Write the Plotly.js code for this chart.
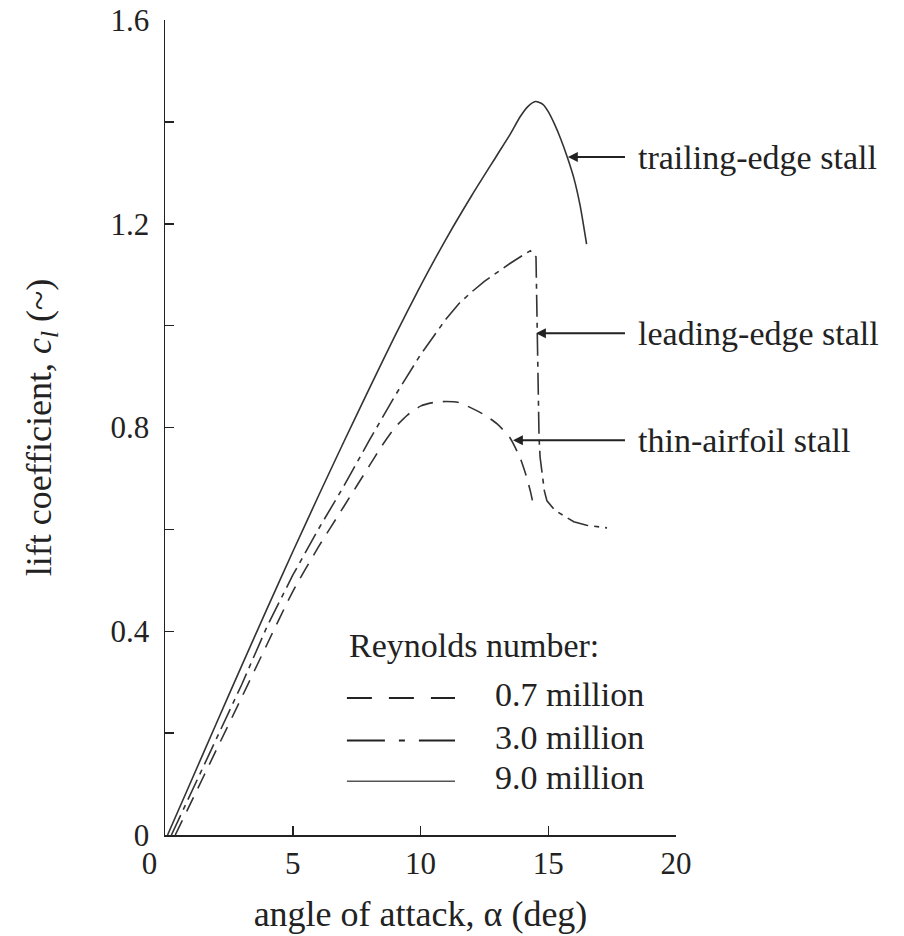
<!DOCTYPE html>
<html>
<head>
<meta charset="utf-8">
<script src="https://cdn.plot.ly/plotly-3.0.1.min.js"></script>
<style>html,body{margin:0;padding:0;background:#fff;}</style>
</head>
<body>
<div id="chart" style="width:904px;height:936px;"></div>
<script>
// Reynolds number 0.7 million (dashed)
const alpha07 = [0.4, 1, 2, 3, 4, 5, 6, 7, 8, 8.5, 9, 9.5, 10, 10.5, 11, 11.5, 12, 12.5, 13, 13.5, 13.9, 14.15, 14.3, 14.45];
const cl07    = [0, 0.062, 0.166, 0.27, 0.375, 0.478, 0.565, 0.645, 0.725, 0.765, 0.80, 0.825, 0.842, 0.849, 0.851, 0.849, 0.838, 0.825, 0.807, 0.78, 0.74, 0.703, 0.675, 0.64];

// Reynolds number 3.0 million (dash-dot)
const alpha30 = [0.25, 1, 2, 3, 4, 5, 6, 7, 8, 9, 10, 11, 11.5, 12, 12.5, 13, 13.5, 14, 14.3, 14.52, 14.56, 14.6, 14.64, 14.68, 14.75, 14.85, 14.95, 15.25, 15.6, 16, 16.5, 16.9, 17.3];
const cl30    = [0, 0.08, 0.185, 0.295, 0.41, 0.51, 0.6, 0.685, 0.775, 0.862, 0.943, 1.013, 1.043, 1.066, 1.087, 1.105, 1.122, 1.138, 1.147, 1.135, 1.0, 0.88, 0.78, 0.742, 0.71, 0.675, 0.656, 0.638, 0.627, 0.615, 0.608, 0.605, 0.603];

// Reynolds number 9.0 million (solid)
const alpha90 = [0.1, 1, 2, 3, 4, 5, 6, 7, 8, 9, 10, 11, 12, 13, 13.5, 13.9, 14.2, 14.5, 14.8, 15, 15.25, 15.5, 15.75, 16, 16.25, 16.5];
const cl90    = [0, 0.103, 0.218, 0.332, 0.445, 0.556, 0.665, 0.772, 0.877, 0.98, 1.078, 1.17, 1.255, 1.335, 1.375, 1.41, 1.43, 1.44, 1.434, 1.42, 1.395, 1.365, 1.33, 1.29, 1.235, 1.16];

const legendTitle = 'Reynolds number:';
const legendLabels = ['0.7 million', '3.0 million', '9.0 million'];

const stallLabels = ['trailing-edge stall', 'leading-edge stall', 'thin-airfoil stall'];
const stallTipAlpha = [15.77, 14.52, 13.62];
const stallTipCl = [1.331, 0.985, 0.775];
const stallTailAlpha = 18.12;
const stallTextAlpha = 18.45;

const xTickVals = [0, 5, 10, 15, 20];
const xTickText = ['0\u00a0\u00a0\u00a0\u00a0', '5', '10', '15', '20'];
const yTickVals = [0, 0.2, 0.4, 0.6, 0.8, 1.0, 1.2, 1.4, 1.6];
const yTickText = ['0', '', '0.4', '', '0.8', '', '1.2', '', '1.6'];

const FONT = "'Liberation Serif', 'DejaVu Serif', serif";
const INK = '#222';

const traces = [
  {x: alpha07, y: cl07, mode: 'lines', line: {color: '#333', width: 1.6, dash: '16px,10px', shape: 'spline', smoothing: 0.6}, name: legendLabels[0]},
  {x: alpha30, y: cl30, mode: 'lines', line: {color: '#333', width: 1.6, dash: '22px,6px,5px,6px'}, name: legendLabels[1]},
  {x: alpha90, y: cl90, mode: 'lines', line: {color: '#333', width: 1.6, shape: 'spline', smoothing: 0.6}, name: legendLabels[2]}
];

const annotations = [];
const shapes = [];

// stall arrows + labels
stallLabels.forEach((t, i) => {
  annotations.push({
    x: stallTipAlpha[i], y: stallTipCl[i], xref: 'x', yref: 'y',
    ax: stallTailAlpha, ay: stallTipCl[i], axref: 'x', ayref: 'y',
    text: ' ', showarrow: true, arrowhead: 2, arrowsize: 1.1, arrowwidth: 1.8,
    arrowcolor: INK, standoff: 0, startstandoff: 0
  });
  annotations.push({
    x: stallTextAlpha, y: stallTipCl[i], xref: 'x', yref: 'y',
    text: t, showarrow: false, xanchor: 'left', yanchor: 'middle',
    font: {family: FONT, size: 34, color: INK}
  });
});

// legend block (drawn manually)
const legX0 = 0.356, legX1 = 0.5675, legTextX = 0.642;
const legTitleY = 0.232;
const legY = [0.172, 0.12, 0.07];
const legDash = ['25px,17px', '38px,14px,6px,14px', 'solid'];
annotations.push({
  x: legX0, y: legTitleY, xref: 'paper', yref: 'paper', xanchor: 'left', yanchor: 'middle',
  text: legendTitle, showarrow: false, font: {family: FONT, size: 34, color: INK}
});
legendLabels.forEach((t, i) => {
  annotations.push({
    x: legTextX, y: legY[i], xref: 'paper', yref: 'paper', xanchor: 'left', yanchor: 'middle',
    text: t, showarrow: false, font: {family: FONT, size: 34, color: INK}
  });
  shapes.push({
    type: 'line', xref: 'paper', yref: 'paper', x0: legX0, x1: legX1, y0: legY[i] - 0.004, y1: legY[i] - 0.004,
    line: {color: i === 2 ? '#555' : INK, width: i === 2 ? 1.6 : 2, dash: legDash[i]}
  });
});

const layout = {
  width: 904, height: 936,
  margin: {l: 165, r: 228, t: 20, b: 101, pad: 0},
  paper_bgcolor: '#fff', plot_bgcolor: '#fff',
  showlegend: false,
  font: {family: FONT, color: INK},
  xaxis: {
    range: [0, 20], tickmode: 'array', tickvals: xTickVals, ticktext: xTickText,
    ticks: 'inside', ticklen: 9, tickwidth: 1.5, tickcolor: INK,
    showline: true, linecolor: INK, linewidth: 1.5, showgrid: false, zeroline: false,
    tickfont: {family: FONT, size: 31, color: INK},
    title: {text: 'angle of attack, \u03b1 (deg)', font: {family: FONT, size: 36, color: INK}, standoff: 21}
  },
  yaxis: {
    range: [0, 1.6], tickmode: 'array', tickvals: yTickVals, ticktext: yTickText,
    ticks: 'inside', ticklen: 9, tickwidth: 1.5, tickcolor: INK,
    showline: true, linecolor: INK, linewidth: 1.5, showgrid: false, zeroline: false,
    tickfont: {family: FONT, size: 31, color: INK}, ticklabelstandoff: 8,
    title: {text: 'lift coefficient, <i>c</i><sub><i>l</i></sub> (~)', font: {family: FONT, size: 36, color: INK}, standoff: 48}
  },
  annotations: annotations,
  shapes: shapes
};

Plotly.newPlot('chart', traces, layout, {displayModeBar: false, staticPlot: true});
</script>
</body>
</html>
